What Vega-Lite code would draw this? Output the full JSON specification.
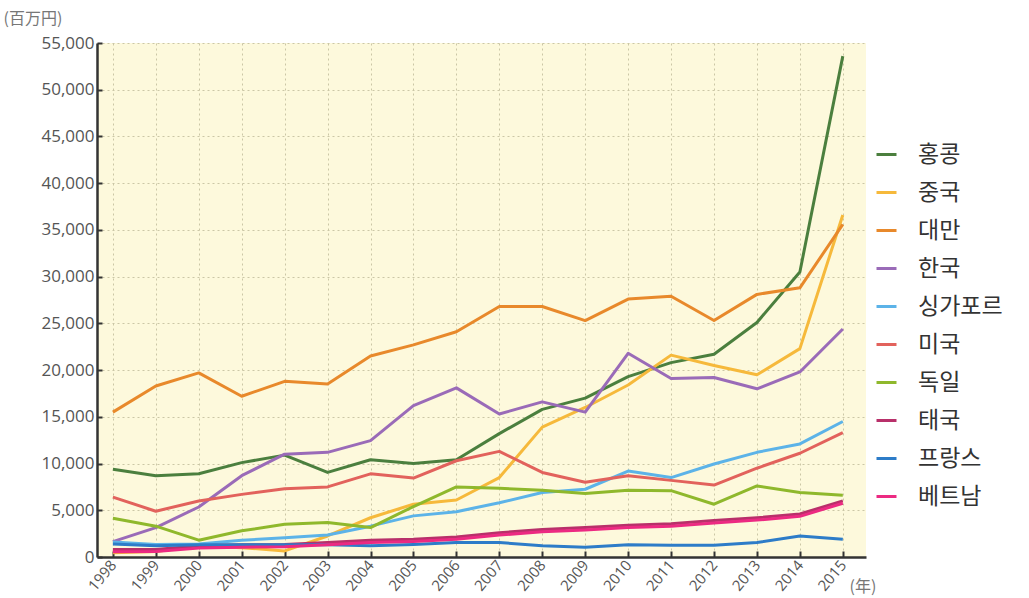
{
  "$schema": "https://vega.github.io/schema/vega-lite/v6.json",
  "width": 769,
  "height": 514,
  "autosize": {"type": "none"},
  "padding": {"left": 97, "top": 43, "right": 163, "bottom": 41},
  "background": "white",
  "config": {
    "view": {"fill": "#fdf9dc", "stroke": null},
    "font": "Open Sans",
    "axis": {
      "labelFont": "Open Sans",
      "labelColor": "#555555",
      "domainColor": "#333333",
      "domainWidth": 2.5,
      "tickColor": "#333333",
      "tickWidth": 2,
      "gridColor": "#cbc6a6",
      "gridDash": [2, 3],
      "gridWidth": 1
    }
  },
  "data": {"values": [
    {"year":1998,"c":"홍콩","v":9400},{"year":1999,"c":"홍콩","v":8700},{"year":2000,"c":"홍콩","v":8900},{"year":2001,"c":"홍콩","v":10100},{"year":2002,"c":"홍콩","v":10900},{"year":2003,"c":"홍콩","v":9050},{"year":2004,"c":"홍콩","v":10400},{"year":2005,"c":"홍콩","v":10000},{"year":2006,"c":"홍콩","v":10400},{"year":2007,"c":"홍콩","v":13200},{"year":2008,"c":"홍콩","v":15800},{"year":2009,"c":"홍콩","v":17000},{"year":2010,"c":"홍콩","v":19300},{"year":2011,"c":"홍콩","v":20800},{"year":2012,"c":"홍콩","v":21700},{"year":2013,"c":"홍콩","v":25100},{"year":2014,"c":"홍콩","v":30500},{"year":2015,"c":"홍콩","v":53600},
    {"year":1998,"c":"중국","v":450},{"year":1999,"c":"중국","v":600},{"year":2000,"c":"중국","v":1200},{"year":2001,"c":"중국","v":1000},{"year":2002,"c":"중국","v":650},{"year":2003,"c":"중국","v":2250},{"year":2004,"c":"중국","v":4200},{"year":2005,"c":"중국","v":5650},{"year":2006,"c":"중국","v":6100},{"year":2007,"c":"중국","v":8500},{"year":2008,"c":"중국","v":13900},{"year":2009,"c":"중국","v":16000},{"year":2010,"c":"중국","v":18400},{"year":2011,"c":"중국","v":21600},{"year":2012,"c":"중국","v":20500},{"year":2013,"c":"중국","v":19500},{"year":2014,"c":"중국","v":22300},{"year":2015,"c":"중국","v":36600},
    {"year":1998,"c":"대만","v":15500},{"year":1999,"c":"대만","v":18300},{"year":2000,"c":"대만","v":19700},{"year":2001,"c":"대만","v":17200},{"year":2002,"c":"대만","v":18800},{"year":2003,"c":"대만","v":18500},{"year":2004,"c":"대만","v":21500},{"year":2005,"c":"대만","v":22700},{"year":2006,"c":"대만","v":24100},{"year":2007,"c":"대만","v":26800},{"year":2008,"c":"대만","v":26800},{"year":2009,"c":"대만","v":25300},{"year":2010,"c":"대만","v":27600},{"year":2011,"c":"대만","v":27900},{"year":2012,"c":"대만","v":25300},{"year":2013,"c":"대만","v":28100},{"year":2014,"c":"대만","v":28800},{"year":2015,"c":"대만","v":35600},
    {"year":1998,"c":"한국","v":1650},{"year":1999,"c":"한국","v":3150},{"year":2000,"c":"한국","v":5350},{"year":2001,"c":"한국","v":8700},{"year":2002,"c":"한국","v":11000},{"year":2003,"c":"한국","v":11200},{"year":2004,"c":"한국","v":12450},{"year":2005,"c":"한국","v":16200},{"year":2006,"c":"한국","v":18100},{"year":2007,"c":"한국","v":15300},{"year":2008,"c":"한국","v":16600},{"year":2009,"c":"한국","v":15500},{"year":2010,"c":"한국","v":21800},{"year":2011,"c":"한국","v":19100},{"year":2012,"c":"한국","v":19200},{"year":2013,"c":"한국","v":18000},{"year":2014,"c":"한국","v":19800},{"year":2015,"c":"한국","v":24400},
    {"year":1998,"c":"싱가포르","v":1600},{"year":1999,"c":"싱가포르","v":1350},{"year":2000,"c":"싱가포르","v":1400},{"year":2001,"c":"싱가포르","v":1800},{"year":2002,"c":"싱가포르","v":2050},{"year":2003,"c":"싱가포르","v":2350},{"year":2004,"c":"싱가포르","v":3300},{"year":2005,"c":"싱가포르","v":4400},{"year":2006,"c":"싱가포르","v":4850},{"year":2007,"c":"싱가포르","v":5800},{"year":2008,"c":"싱가포르","v":6900},{"year":2009,"c":"싱가포르","v":7250},{"year":2010,"c":"싱가포르","v":9200},{"year":2011,"c":"싱가포르","v":8500},{"year":2012,"c":"싱가포르","v":9950},{"year":2013,"c":"싱가포르","v":11200},{"year":2014,"c":"싱가포르","v":12100},{"year":2015,"c":"싱가포르","v":14500},
    {"year":1998,"c":"미국","v":6400},{"year":1999,"c":"미국","v":4900},{"year":2000,"c":"미국","v":6000},{"year":2001,"c":"미국","v":6700},{"year":2002,"c":"미국","v":7300},{"year":2003,"c":"미국","v":7500},{"year":2004,"c":"미국","v":8900},{"year":2005,"c":"미국","v":8450},{"year":2006,"c":"미국","v":10300},{"year":2007,"c":"미국","v":11300},{"year":2008,"c":"미국","v":9050},{"year":2009,"c":"미국","v":8000},{"year":2010,"c":"미국","v":8700},{"year":2011,"c":"미국","v":8200},{"year":2012,"c":"미국","v":7700},{"year":2013,"c":"미국","v":9500},{"year":2014,"c":"미국","v":11100},{"year":2015,"c":"미국","v":13300},
    {"year":1998,"c":"독일","v":4150},{"year":1999,"c":"독일","v":3300},{"year":2000,"c":"독일","v":1800},{"year":2001,"c":"독일","v":2800},{"year":2002,"c":"독일","v":3500},{"year":2003,"c":"독일","v":3700},{"year":2004,"c":"독일","v":3150},{"year":2005,"c":"독일","v":5400},{"year":2006,"c":"독일","v":7500},{"year":2007,"c":"독일","v":7350},{"year":2008,"c":"독일","v":7150},{"year":2009,"c":"독일","v":6800},{"year":2010,"c":"독일","v":7150},{"year":2011,"c":"독일","v":7100},{"year":2012,"c":"독일","v":5650},{"year":2013,"c":"독일","v":7600},{"year":2014,"c":"독일","v":6900},{"year":2015,"c":"독일","v":6600},
    {"year":1998,"c":"태국","v":800},{"year":1999,"c":"태국","v":800},{"year":2000,"c":"태국","v":1200},{"year":2001,"c":"태국","v":1300},{"year":2002,"c":"태국","v":1350},{"year":2003,"c":"태국","v":1550},{"year":2004,"c":"태국","v":1800},{"year":2005,"c":"태국","v":1900},{"year":2006,"c":"태국","v":2150},{"year":2007,"c":"태국","v":2600},{"year":2008,"c":"태국","v":2950},{"year":2009,"c":"태국","v":3150},{"year":2010,"c":"태국","v":3400},{"year":2011,"c":"태국","v":3550},{"year":2012,"c":"태국","v":3900},{"year":2013,"c":"태국","v":4200},{"year":2014,"c":"태국","v":4600},{"year":2015,"c":"태국","v":6000},
    {"year":1998,"c":"프랑스","v":1400},{"year":1999,"c":"프랑스","v":1200},{"year":2000,"c":"프랑스","v":1300},{"year":2001,"c":"프랑스","v":1300},{"year":2002,"c":"프랑스","v":1300},{"year":2003,"c":"프랑스","v":1300},{"year":2004,"c":"프랑스","v":1200},{"year":2005,"c":"프랑스","v":1350},{"year":2006,"c":"프랑스","v":1550},{"year":2007,"c":"프랑스","v":1550},{"year":2008,"c":"프랑스","v":1200},{"year":2009,"c":"프랑스","v":1050},{"year":2010,"c":"프랑스","v":1300},{"year":2011,"c":"프랑스","v":1250},{"year":2012,"c":"프랑스","v":1250},{"year":2013,"c":"프랑스","v":1550},{"year":2014,"c":"프랑스","v":2250},{"year":2015,"c":"프랑스","v":1900},
    {"year":1998,"c":"베트남","v":550},{"year":1999,"c":"베트남","v":600},{"year":2000,"c":"베트남","v":950},{"year":2001,"c":"베트남","v":1050},{"year":2002,"c":"베트남","v":1100},{"year":2003,"c":"베트남","v":1300},{"year":2004,"c":"베트남","v":1550},{"year":2005,"c":"베트남","v":1650},{"year":2006,"c":"베트남","v":1900},{"year":2007,"c":"베트남","v":2350},{"year":2008,"c":"베트남","v":2700},{"year":2009,"c":"베트남","v":2900},{"year":2010,"c":"베트남","v":3150},{"year":2011,"c":"베트남","v":3300},{"year":2012,"c":"베트남","v":3650},{"year":2013,"c":"베트남","v":3950},{"year":2014,"c":"베트남","v":4350},{"year":2015,"c":"베트남","v":5750}
  ]},
  "mark": {"type": "line", "strokeWidth": 3, "strokeJoin": "round"},
  "encoding": {
    "x": {
      "field": "year", "type": "quantitative",
      "scale": {"domain": [1997.63, 2015.54], "nice": false, "zero": false},
      "axis": {
        "values": [1998,1999,2000,2001,2002,2003,2004,2005,2006,2007,2008,2009,2010,2011,2012,2013,2014,2015],
        "format": "d",
        "labelFontSize": 15,
        "labelAngle": -50,
        "labelAlign": "right",
        "labelBaseline": "middle",
        "labelPadding": 11,
        "tickSize": -6,
        "grid": true,
        "title": "(年)",
        "titleFont": "Noto Sans CJK JP",
        "titleFontWeight": "normal",
        "titleFontSize": 16,
        "titleColor": "#777777",
        "titleAngle": 0,
        "titleAnchor": null,
        "titleAlign": "left",
        "titleBaseline": "middle",
        "titleX": 752,
        "titleY": 29
      }
    },
    "y": {
      "field": "v", "type": "quantitative",
      "scale": {"domain": [0, 55000], "nice": false},
      "axis": {
        "values": [0,5000,10000,15000,20000,25000,30000,35000,40000,45000,50000,55000],
        "format": ",d",
        "labelFontSize": 17,
        "labelPadding": 8,
        "tickSize": -5,
        "grid": true,
        "title": "(百万円)",
        "titleFont": "Noto Sans CJK JP",
        "titleFontWeight": "normal",
        "titleFontSize": 16,
        "titleColor": "#777777",
        "titleAngle": 0,
        "titleAnchor": null,
        "titleAlign": "left",
        "titleBaseline": "middle",
        "titleX": -94,
        "titleY": -25
      }
    },
    "color": {
      "field": "c", "type": "nominal",
      "scale": {
        "domain": ["홍콩","중국","대만","한국","싱가포르","미국","독일","태국","프랑스","베트남"],
        "range": ["#4b7f3e","#f6b93b","#e8892b","#9a6bb8","#5cb3e8","#e2625c","#8fb82c","#b8306a","#2d7cc8","#ec2a82"]
      },
      "legend": {
        "title": null,
        "orient": "none",
        "legendX": 778,
        "legendY": 100,
        "symbolType": "stroke",
        "symbolSize": 400,
        "symbolStrokeWidth": 3,
        "labelFont": "Noto Sans CJK KR",
        "labelFontSize": 23,
        "labelColor": "#333333",
        "labelOffset": 20,
        "rowPadding": 14
      }
    }
  }
}
